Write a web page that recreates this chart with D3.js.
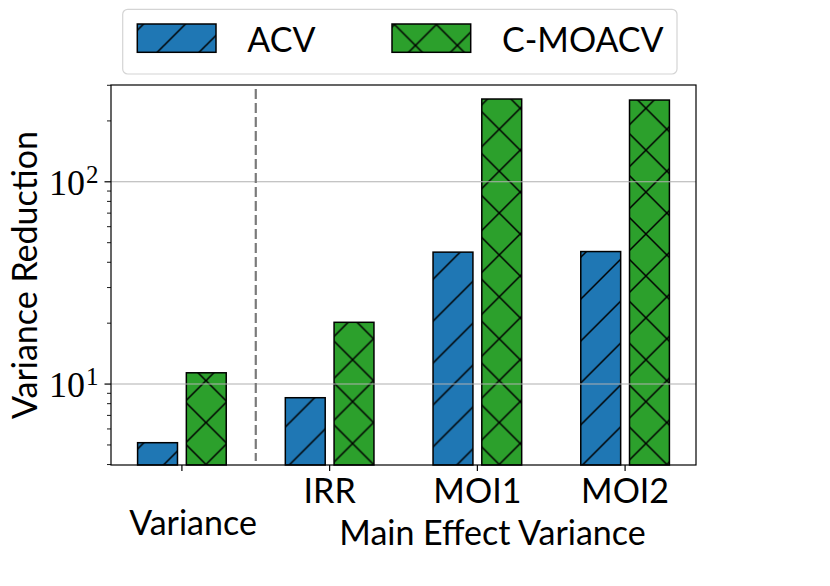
<!DOCTYPE html>
<html><head><meta charset="utf-8">
<script src="https://cdn.jsdelivr.net/npm/d3@7"></script>
<style>body{margin:0;background:#fff}</style>
</head><body>
<svg id="c" width="830" height="586"></svg>
<script>
const categories = ["", "IRR", "MOI1", "MOI2"];
const seriesNames = ["ACV", "C-MOACV"];
const acv = [5.13, 8.56, 44.9, 45.2];
const cmoacv = [11.37, 20.2, 256.6, 253.6];
const yMajorTicks = [10, 100];
const yMinorTicks = [4,5,6,7,8,9,20,30,40,50,60,70,80,90,200,300];

const W = 830, H = 586;
const L = 111, R = 696, T = 85, B = 465;
const svg = d3.select("#c");
const SANS = "Lato, 'Liberation Sans', sans-serif";
const SERIF = "'Liberation Serif', serif";

const x = d3.scaleLinear().domain([-0.48, 3.48]).range([L, R]);
const y = d3.scaleLog().domain([3.98, 301]).range([B, T]);

// hatch patterns
const s = 41.9;
const defs = svg.append("defs");
function pat(id, color, cross) {
  const p = defs.append("pattern").attr("id", id).attr("patternUnits", "userSpaceOnUse")
    .attr("x", -3.55).attr("y", 3.55).attr("width", s).attr("height", s);
  p.append("rect").attr("width", s).attr("height", s).attr("fill", color);
  let d = `M-2,${s+2}L${s+2},-2 M-2,2L2,-2 M${s-2},${s+2}L${s+2},${s-2}`;
  if (cross) d += ` M-2,-2L${s+2},${s+2} M${s-2},-2L${s+2},2 M-2,${s-2}L2,${s+2}`;
  p.append("path").attr("d", d).attr("stroke", "#000").attr("stroke-width", 1.5).attr("fill", "none");
}
pat("hAcv", "#1f77b4", false);
pat("hC", "#2ca02c", true);

const barW = 0.27, off = 0.165;
const series = [
  {name: seriesNames[0], vals: acv, fill: "url(#hAcv)", o: -off},
  {name: seriesNames[1], vals: cmoacv, fill: "url(#hC)", o: off}
];

const g = svg.append("g");
series.forEach(se => {
  g.selectAll(null).data(se.vals).enter().append("rect")
    .attr("x", (d, i) => x(i + se.o - barW / 2))
    .attr("width", (d, i) => x(i + se.o + barW / 2) - x(i + se.o - barW / 2))
    .attr("y", d => y(d))
    .attr("height", d => B - y(d))
    .attr("fill", se.fill).attr("stroke", "#000").attr("stroke-width", 1.5);
});

// grid
svg.append("g").selectAll("line").data(yMajorTicks).enter().append("line")
  .attr("x1", L).attr("x2", R).attr("y1", d => y(d)).attr("y2", d => y(d))
  .attr("stroke", "#b0b0b0").attr("stroke-width", 1.1);

// dashed separator
svg.append("line").attr("x1", x(0.5)).attr("x2", x(0.5)).attr("y1", T + 4).attr("y2", B - 4)
  .attr("stroke", "#7a7a7a").attr("stroke-width", 2.2).attr("stroke-dasharray", "10,4");

// y ticks
const yt = svg.append("g");
yt.selectAll(".mj").data(yMajorTicks).enter().append("line")
  .attr("x1", L - 6.5).attr("x2", L).attr("y1", d => y(d)).attr("y2", d => y(d))
  .attr("stroke", "#000").attr("stroke-width", 1.2);
yt.selectAll(".mn").data(yMinorTicks.filter(v => v >= y.domain()[0] && v <= y.domain()[1])).enter().append("line")
  .attr("x1", L - 4).attr("x2", L).attr("y1", d => y(d)).attr("y2", d => y(d))
  .attr("stroke", "#000").attr("stroke-width", 0.9);
yMajorTicks.forEach(v => {
  yt.append("text").attr("x", 85).attr("y", y(v) + 13.3).attr("text-anchor", "end")
    .attr("font-family", SERIF).attr("font-size", 36).text("10");
  yt.append("text").attr("x", 86).attr("y", y(v) + 1).attr("text-anchor", "start")
    .attr("font-family", SERIF).attr("font-size", 25).text(String(Math.round(Math.log10(v))));
});

// x ticks
const xt = svg.append("g");
categories.forEach((c, i) => {
  xt.append("line").attr("x1", x(i)).attr("x2", x(i)).attr("y1", B).attr("y2", B + 6)
    .attr("stroke", "#000").attr("stroke-width", 1.2);
  xt.append("text").attr("x", x(i)).attr("y", 503).attr("text-anchor", "middle")
    .attr("font-family", SANS).attr("font-size", 34).text(c);
});
svg.append("text").attr("x", 193).attr("y", 535).attr("text-anchor", "middle")
  .attr("font-family", SANS).attr("font-size", 34).text("Variance");
svg.append("text").attr("x", 492.5).attr("y", 545).attr("text-anchor", "middle")
  .attr("font-family", SANS).attr("font-size", 34).text("Main Effect Variance");

// spines
svg.append("rect").attr("x", L).attr("y", T).attr("width", R - L).attr("height", B - T)
  .attr("fill", "none").attr("stroke", "#000").attr("stroke-width", 1.2);

// y label
svg.append("text").attr("transform", `translate(37,${(T + B) / 2}) rotate(-90)`)
  .attr("text-anchor", "middle").attr("font-family", SANS).attr("font-size", 34)
  .text("Variance Reduction");

// legend
const lg = svg.append("g");
lg.append("rect").attr("x", 122.7).attr("y", 9.3).attr("width", 554.3).attr("height", 64.7)
  .attr("rx", 5).attr("fill", "#fff").attr("stroke", "#d4d4d4").attr("stroke-width", 1.2);
const legX = [137.3, 392];
series.forEach((se, k) => {
  lg.append("rect").attr("x", legX[k]).attr("y", 24).attr("width", 78.7).attr("height", 28.3)
    .attr("fill", se.fill).attr("stroke", "#000").attr("stroke-width", 1.5);
  lg.append("text").attr("x", legX[k] + 110).attr("y", 51.7)
    .attr("font-family", SANS).attr("font-size", 34).text(se.name);
});
</script>
</body></html>
